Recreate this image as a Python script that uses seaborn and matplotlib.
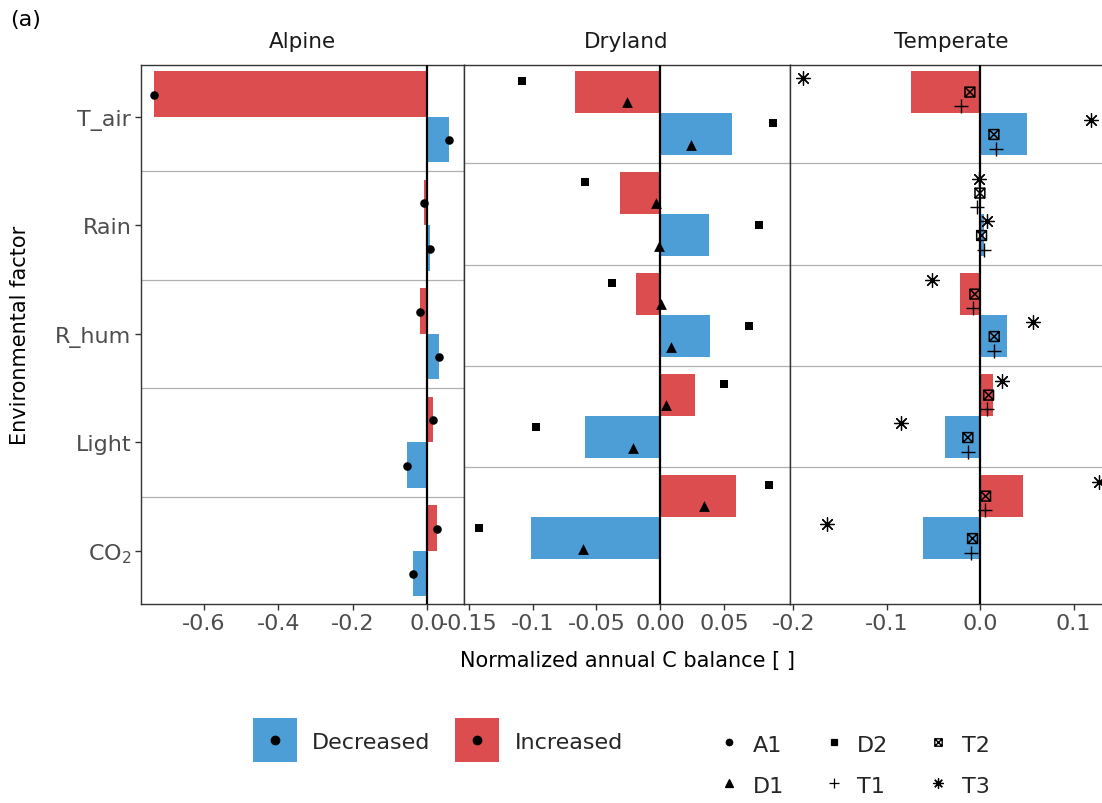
import pandas as pd
import seaborn as sns
import matplotlib.pyplot as plt
from matplotlib.path import Path
from matplotlib.lines import Line2D
from matplotlib.legend_handler import HandlerTuple

# categories
factors = ["T_air", "Rain", "R_hum", "Light", "$\\mathregular{CO_2}$"]
biomes = ["Alpine", "Dryland", "Temperate"]
directions = ["Increased", "Decreased"]

# site values per factor, increased / decreased run
a1_inc = [-0.735, -0.007, -0.019, 0.018, 0.027]
a1_dec = [0.061, 0.009, 0.032, -0.053, -0.038]
d2_inc = [-0.108, -0.059, -0.038, 0.050, 0.085]
d2_dec = [0.088, 0.077, 0.069, -0.097, -0.142]
d1_inc = [-0.026, -0.0035, 0.0004, 0.0045, 0.034]
d1_dec = [0.024, -0.001, 0.008, -0.0215, -0.0605]
t3_inc = [-0.190, -0.0014, -0.052, 0.023, 0.127]
t3_dec = [0.118, 0.0068, 0.056, -0.085, -0.164]
t2_inc = [-0.011, -0.0003, -0.0057, 0.009, 0.0058]
t2_dec = [0.0147, 0.0015, 0.015, -0.0132, -0.0082]
t1_inc = [-0.021, -0.003, -0.008, 0.0075, 0.0047]
t1_dec = [0.0165, 0.004, 0.0143, -0.0135, -0.010]

# tick labels per panel
alpine_ticks = [-0.6, -0.4, -0.2, 0.0]
alpine_labels = ["-0.6", "-0.4", "-0.2", "0.0"]
dryland_ticks = [-0.15, -0.1, -0.05, 0.0, 0.05]
dryland_labels = ["-0.15", "-0.1", "-0.05", "0.00", "0.05"]
temperate_ticks = [-0.2, -0.1, 0.0, 0.1]
temperate_labels = ["-0.2", "-0.1", "0.0", "0.1"]

# sites of each biome, top to bottom inside a bar
sites = {
    "Alpine": [("A1", a1_inc, a1_dec)],
    "Dryland": [("D2", d2_inc, d2_dec), ("D1", d1_inc, d1_dec)],
    "Temperate": [("T3", t3_inc, t3_dec), ("T2", t2_inc, t2_dec), ("T1", t1_inc, t1_dec)],
}

rows = []
for biome in biomes:
    for site, inc, dec in sites[biome]:
        for direction, vals in zip(directions, [inc, dec]):
            for f, v in zip(factors, vals):
                rows.append({"biome": biome, "site": site, "direction": direction,
                             "factor": f, "value": v})
df = pd.DataFrame(rows)

# styling
sns.set_theme(style="white")
plt.rcParams["font.family"] = ["DejaVu Sans"]
plt.rcParams["axes.unicode_minus"] = False

palette = {"Increased": "#DB4D4F", "Decreased": "#4D9DD6"}
square_x = Path(
    [(-1, -1), (1, -1), (1, 1), (-1, 1), (-1, -1), (-1, -1), (1, 1), (-1, 1), (1, -1)],
    [Path.MOVETO, Path.LINETO, Path.LINETO, Path.LINETO, Path.CLOSEPOLY,
     Path.MOVETO, Path.LINETO, Path.MOVETO, Path.LINETO],
)
site_style = {
    "A1": dict(marker="o", s=38, linewidth=0),
    "D2": dict(marker="s", s=30, linewidth=0),
    "D1": dict(marker="^", s=60, linewidth=0),
    "T3": dict(marker=(8, 2, 0), s=100, linewidth=0.9),
    "T2": dict(marker=square_x, s=50, linewidth=1.1, facecolor="none", edgecolor="black"),
    "T1": dict(marker="+", s=105, linewidth=1.0),
}
# vertical placement of the points: first slot, slot step
dodge = {"Alpine": (-0.205, 0.42),
         "Dryland": (-0.314, 0.209),
         "Temperate": (-0.347, 0.14)}
ylims = {"Alpine": (4.485, -0.482), "Dryland": (4.856, -0.480), "Temperate": (4.856, -0.480)}
xlims = {"Alpine": (-0.770, 0.099), "Dryland": (-0.154, 0.101), "Temperate": (-0.204, 0.141)}
ticks = {"Alpine": (alpine_ticks, alpine_labels),
         "Dryland": (dryland_ticks, dryland_labels),
         "Temperate": (temperate_ticks, temperate_labels)}
panel_px = {"Alpine": (141, 463.5), "Dryland": (463.5, 789.5), "Temperate": (789.5, 1112)}

W, H = 1102, 804
fig = plt.figure(figsize=(W / 100, H / 100), dpi=100)
top_px, bot_px = 65.5, 604.5

for biome in biomes:
    l, r = panel_px[biome]
    ax = fig.add_axes([l / W, 1 - bot_px / H, (r - l) / W, (bot_px - top_px) / H])
    sub = df[df["biome"] == biome]
    sns.barplot(data=sub, x="value", y="factor", hue="direction", order=factors,
                hue_order=directions, palette=palette, estimator="mean", errorbar=None,
                width=0.84, saturation=1, linewidth=0, orient="h", legend=False, ax=ax)
    for h in [0.5, 1.5, 2.5, 3.5]:
        ax.axhline(h, color="#B0B0B0", lw=0.9, zorder=0.5)
    ax.axvline(0, color="black", lw=1.6, zorder=3)

    start, slot = dodge[biome]
    n = len(sites[biome])
    for si, (site, inc, dec) in enumerate(sites[biome]):
        for di, vals in enumerate([inc, dec]):
            ypos = [start + fi + (di * n + si) * slot for fi in range(len(factors))]
            kw = dict(site_style[site])
            if "facecolor" not in kw:
                kw["color"] = "black"
            sns.scatterplot(x=vals, y=ypos, ax=ax, legend=False, zorder=4, **kw)

    ax.set_xlim(*xlims[biome])
    ax.set_ylim(*ylims[biome])
    tk, tl = ticks[biome]
    ax.set_xticks(tk)
    ax.set_xticklabels(tl)
    ax.set_xlabel("")
    ax.set_ylabel("")
    for sp in ax.spines.values():
        sp.set_color("#333333")
        sp.set_linewidth(1.0)
    ax.tick_params(axis="both", colors="#333333", labelcolor="#4D4D4D", labelsize=16,
                   length=4, width=1.0, pad=3, bottom=True, left=(biome == "Alpine"))
    if biome != "Alpine":
        ax.set_yticklabels([])
        ax.tick_params(axis="y", left=False)
    ax.text(0.5, 1.0 + 23.5 / (bot_px - top_px), biome, transform=ax.transAxes,
            ha="center", va="center", fontsize=15.5, color="#1A1A1A")

fig.text(627 / W, 1 - 661 / H, "Normalized annual C balance [ ]", ha="center", va="center",
         fontsize=15, color="black")
fig.text(20 / W, 1 - 335 / H, "Environmental factor", rotation=90, ha="center",
         va="center", fontsize=15, color="black")
fig.text(10 / W, 1 - 20 / H, "(a)", ha="left", va="center", fontsize=16, color="black")

# fill legend: coloured square key with a dot on top
def fill_key(colour):
    box = Line2D([], [], marker="s", ls="", markersize=31, markerfacecolor=colour,
                 markeredgewidth=0)
    dot = Line2D([], [], marker="o", ls="", markersize=6, color="black")
    return (box, dot)

fig.legend([fill_key(palette["Decreased"]), fill_key(palette["Increased"])],
           ["Decreased", "Increased"], loc="center left",
           bbox_to_anchor=(253 / W, 1 - 743 / H), ncol=2, frameon=False, fontsize=16,
           handlelength=1.95, handleheight=0.7, handletextpad=0.72, columnspacing=1.1,
           borderaxespad=0, borderpad=0,
           handler_map={tuple: HandlerTuple(ndivide=1, pad=0)})

# site legend
def site_handle(site):
    st = site_style[site]
    ms = st["s"] ** 0.5 * 0.75
    if site == "T2":
        return Line2D([], [], marker=square_x, ls="", markersize=ms, markerfacecolor="none",
                      markeredgecolor="black", markeredgewidth=1.0)
    return Line2D([], [], marker=st["marker"], ls="", markersize=ms, color="black",
                  markeredgewidth=0.9)

legend_sites = ["A1", "D1", "D2", "T1", "T2", "T3"]
fig.legend([site_handle(s) for s in legend_sites], legend_sites, loc="center left",
           bbox_to_anchor=(718 / W, 1 - 765.5 / H), ncol=3, frameon=False, fontsize=16,
           handlelength=1.0, handleheight=1.0, handletextpad=0.55, columnspacing=1.75,
           labelspacing=0.86, borderaxespad=0, borderpad=0)

fig.savefig("out.png", dpi=100)
